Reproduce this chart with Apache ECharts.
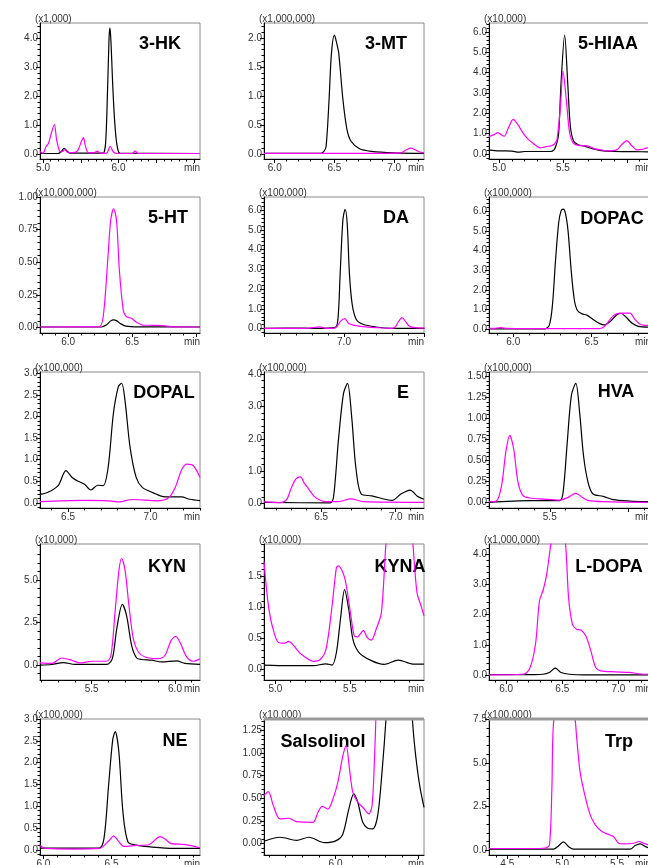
<!DOCTYPE html>
<html>
<head>
<meta charset="utf-8">
<script src="https://cdn.jsdelivr.net/npm/echarts@6/dist/echarts.min.js"></script>
<style>
  html, body { margin: 0; padding: 0; background: #fff; }
  #chart { width: 648px; height: 865px; }
</style>
</head>
<body>
<div id="chart"></div>
<script>
// [time (min), intensity], black = trace 1, pink = trace 2
const hk3Black = [[4.96,0.02],[5.2,0.02],[5.24,0.08],[5.28,0.2],[5.32,0.1],[5.36,0.03],[5.78,0.03],[5.80,0.03],[5.83,0.4],[5.855,2.2],[5.875,4.0],[5.886,4.35],[5.9,3.9],[5.92,2.6],[5.945,1.3],[5.97,0.5],[5.995,0.12],[6.02,0.03],[7.08,0.02]];
const hk3Pink = [[4.96,0.09],[5.0,0.03],[5.04,0.26],[5.07,0.36],[5.11,0.72],[5.15,1.02],[5.18,0.5],[5.22,0.1],[5.25,0.08],[5.29,0.15],[5.33,0.05],[5.40,0.05],[5.46,0.12],[5.51,0.45],[5.535,0.57],[5.56,0.3],[5.6,0.05],[5.68,0.05],[5.72,0.1],[5.76,0.03],[5.84,0.03],[5.89,0.27],[5.93,0.08],[5.98,0.02],[6.18,0.02],[6.22,0.1],[6.26,0.02],[7.08,0.02]];

const mt3Black = [[5.91,0.01],[6.38,0.01],[6.41,0.04],[6.43,0.13],[6.455,0.94],[6.475,1.74],[6.5,2.05],[6.52,1.9],[6.536,1.74],[6.571,0.94],[6.605,0.42],[6.639,0.22],[6.71,0.09],[6.81,0.046],[7.0,0.02],[7.25,0.01]];
const mt3Pink = [[5.91,0.01],[6.8,0.01],[7.05,0.02],[7.1,0.07],[7.14,0.1],[7.18,0.07],[7.22,0.03],[7.25,0.02]];

const hiaaBlack = [[4.92,0.2],[5.0,0.15],[5.1,0.14],[5.15,0.09],[5.2,0.12],[5.3,0.12],[5.4,0.12],[5.43,0.2],[5.45,0.5],[5.466,1.0],[5.485,3.5],[5.513,5.85],[5.537,3.5],[5.558,1.35],[5.584,0.62],[5.62,0.45],[5.67,0.38],[5.72,0.28],[5.8,0.16],[5.9,0.12],[6.05,0.11],[6.19,0.1]];
const hiaaPink = [[4.92,0.85],[4.96,0.95],[4.99,1.05],[5.02,0.92],[5.04,0.87],[5.07,1.25],[5.11,1.7],[5.14,1.5],[5.19,1.0],[5.23,0.7],[5.27,0.5],[5.32,0.3],[5.36,0.35],[5.41,0.4],[5.435,0.5],[5.453,0.7],[5.48,2.33],[5.50,4.08],[5.526,2.66],[5.552,1.03],[5.58,0.54],[5.62,0.42],[5.69,0.4],[5.75,0.25],[5.8,0.2],[5.85,0.15],[5.92,0.2],[5.96,0.45],[6.0,0.65],[6.04,0.4],[6.08,0.2],[6.12,0.22],[6.16,0.3],[6.19,0.3]];

const htBlack = [[5.78,0.003],[6.26,0.003],[6.3,0.02],[6.33,0.048],[6.355,0.058],[6.38,0.05],[6.41,0.028],[6.45,0.01],[6.55,0.004],[7.03,0.003]];
const htPink = [[5.78,0.003],[6.24,0.004],[6.274,0.084],[6.313,0.57],[6.332,0.82],[6.355,0.91],[6.378,0.82],[6.40,0.44],[6.43,0.135],[6.452,0.084],[6.494,0.07],[6.533,0.04],[6.58,0.018],[6.66,0.016],[6.76,0.012],[6.82,0.004],[7.03,0.003]];

const daBlack = [[6.5,0.01],[6.743,0.03],[6.826,0.01],[6.94,0.05],[6.961,0.39],[6.976,2.77],[6.993,5.49],[7.007,6.04],[7.02,5.32],[7.034,2.77],[7.051,1.24],[7.076,0.48],[7.118,0.22],[7.2,0.085],[7.305,0.017],[7.503,0.01]];
const daPink = [[6.5,0.01],[6.743,0.01],[6.79,0.04],[6.847,0.085],[6.88,0.03],[6.91,0.01],[6.94,0.03],[6.955,0.085],[6.98,0.39],[7.005,0.51],[7.03,0.255],[7.066,0.17],[7.118,0.1],[7.2,0.05],[7.30,0.015],[7.32,0.08],[7.34,0.35],[7.363,0.56],[7.385,0.35],[7.405,0.15],[7.43,0.06],[7.503,0.03]];

const dopacBlack = [[5.845,0.02],[6.2,0.02],[6.23,0.2],[6.25,1.2],[6.27,3.5],[6.29,5.4],[6.305,6.0],[6.319,6.1],[6.333,5.9],[6.35,5.0],[6.37,3.0],[6.39,1.5],[6.41,0.95],[6.44,0.78],[6.47,0.72],[6.51,0.5],[6.55,0.3],[6.58,0.22],[6.62,0.4],[6.66,0.72],[6.69,0.8],[6.72,0.62],[6.76,0.3],[6.80,0.15],[6.88,0.1]];
const dopacPink = [[5.845,0.04],[5.88,0.05],[5.92,0.08],[5.96,0.04],[6.1,0.03],[6.4,0.03],[6.55,0.03],[6.575,0.1],[6.596,0.26],[6.638,0.68],[6.68,0.82],[6.745,0.82],[6.777,0.5],[6.81,0.25],[6.84,0.2],[6.88,0.2]];

const dopalBlack = [[6.33,0.2],[6.375,0.24],[6.44,0.4],[6.487,0.75],[6.525,0.59],[6.562,0.5],[6.6,0.43],[6.638,0.3],[6.68,0.41],[6.713,0.4],[6.743,0.82],[6.775,2.07],[6.805,2.69],[6.825,2.77],[6.845,2.38],[6.876,1.29],[6.913,0.59],[6.95,0.36],[7.013,0.24],[7.088,0.14],[7.188,0.14],[7.238,0.085],[7.3,0.055]];
const dopalPink = [[6.33,0.03],[6.59,0.06],[6.75,0.05],[6.81,0.025],[6.89,0.08],[7.04,0.05],[7.11,0.12],[7.15,0.36],[7.19,0.78],[7.22,0.9],[7.26,0.86],[7.3,0.59]];

const eBlack = [[6.117,0.03],[6.56,0.01],[6.583,0.18],[6.616,1.95],[6.65,3.4],[6.677,3.72],[6.705,2.68],[6.733,1.11],[6.77,0.28],[6.84,0.23],[6.978,0.09],[7.033,0.28],[7.097,0.41],[7.145,0.22],[7.19,0.125]];
const ePink = [[6.117,0.05],[6.228,0.02],[6.27,0.12],[6.297,0.44],[6.33,0.75],[6.361,0.82],[6.39,0.6],[6.409,0.49],[6.45,0.23],[6.49,0.1],[6.533,0.05],[6.616,0.05],[6.70,0.135],[6.783,0.05],[7.19,0.03]];

const hvaBlack = [[5.113,0],[5.372,0.02],[5.564,0.02],[5.585,0.12],[5.61,0.68],[5.638,1.28],[5.666,1.42],[5.69,1.08],[5.715,0.56],[5.744,0.24],[5.776,0.1],[5.84,0.072],[5.904,0.032],[6.01,0.016],[6.145,0.008]];
const hvaPink = [[5.113,0.008],[5.16,0.016],[5.193,0.2],[5.22,0.6],[5.245,0.8],[5.27,0.64],[5.298,0.24],[5.33,0.08],[5.372,0.052],[5.457,0.04],[5.564,0.028],[5.617,0.06],[5.666,0.108],[5.702,0.068],[5.744,0.024],[5.84,0.008],[6.145,0]];

const kynBlack = [[5.19,0],[5.26,0.04],[5.33,0.15],[5.4,0.04],[5.59,0.04],[5.624,0.38],[5.65,2.1],[5.684,3.56],[5.71,2.88],[5.74,1.15],[5.77,0.42],[5.8,0.33],[5.86,0.29],[5.92,0.19],[6.01,0.25],[6.06,0.1],[6.15,0.04]];
const kynPink = [[5.19,0.13],[5.26,0.1],[5.32,0.42],[5.38,0.29],[5.43,0.13],[5.5,0.23],[5.59,0.23],[5.616,0.58],[5.64,3.08],[5.664,5.58],[5.68,6.25],[5.7,5.58],[5.724,3.46],[5.75,1.54],[5.78,0.77],[5.82,0.48],[5.9,0.38],[5.94,0.58],[5.976,1.44],[6.004,1.69],[6.034,1.25],[6.07,0.48],[6.11,0.23],[6.15,0.38]];

const kynaBlack = [[4.923,0.07],[5.089,0.06],[5.255,0.06],[5.339,0.09],[5.38,0.07],[5.409,0.27],[5.436,0.8],[5.464,1.28],[5.492,0.96],[5.52,0.48],[5.561,0.27],[5.644,0.14],[5.728,0.08],[5.825,0.15],[5.922,0.085],[5.997,0.085]];
const kynaPink = [[4.923,1.73],[4.95,1.07],[4.978,0.7],[5.02,0.43],[5.061,0.42],[5.089,0.45],[5.122,0.38],[5.172,0.245],[5.255,0.13],[5.297,0.15],[5.339,0.32],[5.38,1.02],[5.409,1.63],[5.422,1.66],[5.464,1.47],[5.5,0.96],[5.528,0.54],[5.548,0.52],[5.59,0.62],[5.617,0.51],[5.644,0.47],[5.675,0.64],[5.711,0.91],[5.742,2.03],[5.8,3.5],[5.87,3.5],[5.922,2.03],[5.95,1.23],[5.977,1.02],[5.997,0.86]];

const ldopaBlack = [[5.847,0.02],[6.25,0.02],[6.326,0.03],[6.385,0.09],[6.438,0.23],[6.488,0.09],[6.562,0.03],[6.7,0.01],[7.29,0.01]];
const ldopaPink = [[5.847,0.01],[6.149,0.03],[6.208,0.2],[6.261,1.02],[6.296,2.44],[6.33,2.82],[6.36,3.31],[6.4,4.4],[6.46,6.0],[6.527,4.4],[6.556,2.55],[6.591,1.67],[6.63,1.51],[6.665,1.49],[6.71,1.29],[6.754,0.8],[6.798,0.25],[6.842,0.14],[6.975,0.11],[7.093,0.09],[7.24,0.03],[7.29,0.03]];

const neBlack = [[5.975,0.04],[6.409,0.04],[6.445,0.26],[6.479,1.49],[6.509,2.52],[6.527,2.71],[6.554,2.25],[6.584,0.87],[6.621,0.18],[6.682,0.107],[6.773,0.07],[6.955,0.03],[7.15,0.03]];
const nePink = [[5.975,0.1],[6.015,0.03],[6.227,0.015],[6.409,0.03],[6.485,0.22],[6.515,0.32],[6.545,0.22],[6.591,0.077],[6.682,0.1],[6.773,0.115],[6.857,0.3],[6.894,0.245],[6.939,0.14],[7.045,0.12],[7.15,0.046]];

const salsBlack = [[5.569,0.022],[5.665,0.067],[5.765,0.033],[5.84,0.067],[5.934,0.007],[6.004,0.03],[6.044,0.104],[6.08,0.38],[6.11,0.548],[6.134,0.456],[6.164,0.233],[6.194,0.167],[6.224,0.16],[6.254,0.307],[6.28,0.79],[6.304,1.38],[6.33,2.2],[6.4,2.8],[6.44,2.2],[6.463,1.38],[6.483,0.97],[6.507,0.64],[6.533,0.4]];
const salsPink = [[5.569,0.53],[5.595,0.574],[5.625,0.42],[5.665,0.27],[5.72,0.278],[5.765,0.24],[5.864,0.233],[5.894,0.344],[5.92,0.41],[5.954,0.38],[5.984,0.49],[6.014,0.68],[6.044,0.97],[6.064,1.085],[6.084,0.826],[6.104,0.567],[6.134,0.456],[6.164,0.4],[6.2,0.326],[6.22,0.42],[6.234,0.9],[6.244,1.45],[6.27,3],[6.533,3]];

const trpBlack = [[4.333,0.06],[4.92,0.06],[4.966,0.25],[5.012,0.48],[5.058,0.21],[5.103,0.06],[5.62,0.06],[5.666,0.27],[5.71,0.36],[5.76,0.21],[5.81,0.08]];
const trpPink = [[4.333,0.1],[4.707,0.1],[4.845,0.13],[4.884,0.3],[4.906,3.45],[4.924,7.5],[5.0,10],[5.08,10],[5.119,7.5],[5.134,6.32],[5.165,4.41],[5.21,3.07],[5.256,2.02],[5.302,1.45],[5.363,1.07],[5.439,0.86],[5.469,0.78],[5.515,0.4],[5.56,0.36],[5.652,0.4],[5.697,0.5],[5.743,0.4],[5.81,0.25]];

// tick labels
const hk3XLabels = [5.0, 6.0],          hk3YLabels = [0, 1, 2, 3, 4];
const mt3XLabels = [6.0, 6.5, 7.0],     mt3YLabels = [0, 0.5, 1.0, 1.5, 2.0];
const hiaaXLabels = [5.0, 5.5],         hiaaYLabels = [0, 1, 2, 3, 4, 5, 6];
const htXLabels = [6.0, 6.5],           htYLabels = [0, 0.25, 0.5, 0.75, 1.0];
const daXLabels = [7.0],                daYLabels = [0, 1, 2, 3, 4, 5, 6];
const dopacXLabels = [6.0, 6.5],        dopacYLabels = [0, 1, 2, 3, 4, 5, 6];
const dopalXLabels = [6.5, 7.0],        dopalYLabels = [0, 0.5, 1.0, 1.5, 2.0, 2.5, 3.0];
const eXLabels = [6.5, 7.0],            eYLabels = [0, 1, 2, 3, 4];
const hvaXLabels = [5.5],               hvaYLabels = [0, 0.25, 0.5, 0.75, 1.0, 1.25, 1.5];
const kynXLabels = [5.5, 6.0],          kynYLabels = [0, 2.5, 5.0];
const kynaXLabels = [5.0, 5.5],         kynaYLabels = [0, 0.5, 1.0, 1.5];
const ldopaXLabels = [6.0, 6.5, 7.0],   ldopaYLabels = [0, 1, 2, 3, 4];
const neXLabels = [6.0, 6.5],           neYLabels = [0, 0.5, 1.0, 1.5, 2.0, 2.5, 3.0];
const salsXLabels = [6.0],              salsYLabels = [0, 0.25, 0.5, 0.75, 1.0, 1.25];
const trpXLabels = [4.5, 5.0, 5.5],     trpYLabels = [0, 2.5, 5.0, 7.5];

const FONT = "'Liberation Sans', Arial, sans-serif";

const panels = [
  { name: '3-HK', scale: '(x1,000)', col: 0, row: 0, x: [4.96, 7.08], y: [-0.17, 4.52], xl: hk3XLabels, yl: hk3YLabels, dec: 1, minor: 0.2, black: hk3Black, pink: hk3Pink, tag: [160, 44] },
  { name: '3-MT', scale: '(x1,000,000)', col: 1, row: 0, x: [5.91, 7.25], y: [-0.086, 2.26], xl: mt3XLabels, yl: mt3YLabels, dec: 1, minor: 0.1, black: mt3Black, pink: mt3Pink, tag: [386, 44] },
  { name: '5-HIAA', scale: '(x10,000)', col: 2, row: 0, x: [4.92, 6.19], y: [-0.25, 6.44], xl: hiaaXLabels, yl: hiaaYLabels, dec: 1, minor: 0.2, black: hiaaBlack, pink: hiaaPink, tag: [608, 44] },
  { name: '5-HT', scale: '(x10,000,000)', col: 0, row: 1, x: [5.78, 7.03], y: [-0.043, 1.0], xl: htXLabels, yl: htYLabels, dec: 2, minor: 0.05, black: htBlack, pink: htPink, tag: [168, 218] },
  { name: 'DA', scale: '(x100,000)', col: 1, row: 1, x: [6.5, 7.5], y: [-0.22, 6.66], xl: daXLabels, yl: daYLabels, dec: 1, minor: 0.2, black: daBlack, pink: daPink, tag: [396, 218] },
  { name: 'DOPAC', scale: '(x100,000)', col: 2, row: 1, x: [5.845, 6.88], y: [-0.19, 6.72], xl: dopacXLabels, yl: dopacYLabels, dec: 1, minor: 0.2, black: dopacBlack, pink: dopacPink, tag: [612, 219] },
  { name: 'DOPAL', scale: '(x100,000)', col: 0, row: 2, x: [6.33, 7.30], y: [-0.117, 3.03], xl: dopalXLabels, yl: dopalYLabels, dec: 1, minor: 0.1, black: dopalBlack, pink: dopalPink, tag: [164, 393] },
  { name: 'E', scale: '(x100,000)', col: 1, row: 2, x: [6.117, 7.19], y: [-0.147, 4.07], xl: eXLabels, yl: eYLabels, dec: 1, minor: 0.2, black: eBlack, pink: ePink, tag: [403, 393] },
  { name: 'HVA', scale: '(x100,000)', col: 2, row: 2, x: [5.113, 6.145], y: [-0.067, 1.556], xl: hvaXLabels, yl: hvaYLabels, dec: 2, minor: 0.05, black: hvaBlack, pink: hvaPink, tag: [616, 392] },
  { name: 'KYN', scale: '(x10,000)', col: 0, row: 3, x: [5.19, 6.15], y: [-0.87, 7.1], xl: kynXLabels, yl: kynYLabels, dec: 1, minor: 0.5, black: kynBlack, pink: kynPink, tag: [167, 567] },
  { name: 'KYNA', scale: '(x10,000)', col: 1, row: 3, x: [4.923, 5.997], y: [-0.17, 2.01], xl: kynaXLabels, yl: kynaYLabels, dec: 1, minor: 0.1, black: kynaBlack, pink: kynaPink, tag: [400, 567] },
  { name: 'L-DOPA', scale: '(x1,000,000)', col: 2, row: 3, x: [5.847, 7.29], y: [-0.16, 4.33], xl: ldopaXLabels, yl: ldopaYLabels, dec: 1, minor: 0.2, black: ldopaBlack, pink: ldopaPink, tag: [609, 567] },
  { name: 'NE', scale: '(x100,000)', col: 0, row: 4, x: [5.975, 7.15], y: [-0.12, 3.0], xl: neXLabels, yl: neYLabels, dec: 1, minor: 0.1, black: neBlack, pink: nePink, tag: [175, 741] },
  { name: 'Salsolinol', scale: '(x10,000)', col: 1, row: 4, x: [5.569, 6.533], y: [-0.13, 1.38], xl: salsXLabels, yl: salsYLabels, dec: 2, minor: 0.05, black: salsBlack, pink: salsPink, tag: [323, 742], thickTop: true },
  { name: 'Trp', scale: '(x100,000)', col: 2, row: 4, x: [4.333, 5.81], y: [-0.27, 7.5], xl: trpXLabels, yl: trpYLabels, dec: 1, minor: 0.5, black: trpBlack, pink: trpPink, tag: [619, 742], thickTop: true },
];

const colLeft = [40, 264, 489];
const colWidth = [160, 160, 162];
const rowTop = [23, 197, 372, 544, 719];
const rowHeight = 136;

function ticks(lo, hi, step) {
  const out = [];
  const a = Math.ceil(lo / step - 1e-6), b = Math.floor(hi / step + 1e-6);
  for (let i = a; i <= b; i++) out.push(+(i * step).toFixed(4));
  return out;
}

const grids = [], xAxes = [], yAxes = [], series = [], elements = [];
const labelStyle = { fontSize: 10, color: '#333', fontFamily: FONT };

panels.forEach((p, i) => {
  const left = colLeft[p.col], top = rowTop[p.row], width = colWidth[p.col];
  grids.push({ left, top, width, height: rowHeight, show: true, borderColor: '#8a8a8a', borderWidth: 1, outerBoundsMode: 'none', containLabel: false });

  const base = { type: 'value', gridIndex: i, splitLine: { show: false }, silent: true };
  // x: major ticks + labels, then minor ticks
  xAxes.push({ ...base, min: p.x[0], max: p.x[1], position: 'bottom',
    axisLine: { onZero: false, lineStyle: { color: '#000', width: 1 } },
    axisTick: { customValues: ticks(p.x[0], p.x[1], 0.5), length: 4, lineStyle: { color: '#000' } },
    axisLabel: { ...labelStyle, customValues: p.xl, formatter: v => v.toFixed(1), margin: 4 } });
  xAxes.push({ ...base, min: p.x[0], max: p.x[1], position: 'bottom',
    axisLine: { show: false, onZero: false },
    axisTick: { customValues: ticks(p.x[0], p.x[1], 0.1), length: 2.5, lineStyle: { color: '#000' } },
    axisLabel: { show: false } });
  // y
  yAxes.push({ ...base, min: p.y[0], max: p.y[1], position: 'left',
    axisLine: { show: true, onZero: false, lineStyle: { color: '#000', width: 1 } },
    axisTick: { show: true, customValues: p.yl, length: 4, lineStyle: { color: '#000' } },
    axisLabel: { ...labelStyle, customValues: p.yl, formatter: v => v.toFixed(p.dec), margin: 2 } });
  yAxes.push({ ...base, min: p.y[0], max: p.y[1], position: 'left',
    axisLine: { show: false, onZero: false },
    axisTick: { show: true, customValues: ticks(p.y[0], p.y[1], p.minor), length: 2.5, lineStyle: { color: '#000' } },
    axisLabel: { show: false } });

  const line = (data, color) => ({
    type: 'line', xAxisIndex: 2 * i, yAxisIndex: 2 * i, data,
    showSymbol: false, symbol: 'none', smooth: 0.3, clip: true, silent: true,
    lineStyle: { color, width: 1.2 }
  });
  series.push(line(p.black, '#000000'));
  series.push(line(p.pink, '#ff00ff'));

  elements.push({ type: 'text', x: p.tag[0], y: p.tag[1], silent: true,
    style: { text: p.name, fill: '#000', font: 'bold 18px ' + FONT, align: 'center', verticalAlign: 'middle', textAlign: 'center', textVerticalAlign: 'middle' } });
  elements.push({ type: 'text', x: left - 5, y: top - 4, silent: true,
    style: { text: p.scale, fill: '#333', font: '10px ' + FONT, align: 'left', verticalAlign: 'middle', textAlign: 'left', textVerticalAlign: 'middle' } });
  elements.push({ type: 'text', x: left + width, y: top + rowHeight + 9, silent: true,
    style: { text: 'min', fill: '#333', font: '10px ' + FONT, align: 'right', verticalAlign: 'middle', textAlign: 'right', textVerticalAlign: 'middle' } });
  if (p.thickTop) {
    elements.push({ type: 'line', silent: true, z: 10,
      shape: { x1: left, y1: top, x2: left + width, y2: top },
      style: { stroke: '#999', lineWidth: 3 } });
  }
});

const chart = echarts.init(document.getElementById('chart'));
chart.setOption({
  animation: false,
  backgroundColor: '#fff',
  grid: grids,
  xAxis: xAxes,
  yAxis: yAxes,
  series,
  graphic: { elements }
});
</script>
</body>
</html>
